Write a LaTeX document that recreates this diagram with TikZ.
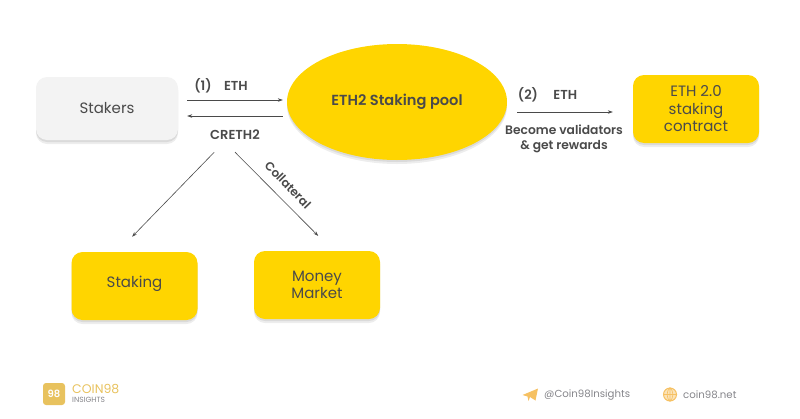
\documentclass[tikz,border=0pt]{standalone}
\usepackage{fontspec}
\setmainfont{Poppins}[BoldFont={Poppins SemiBold}]
\usepackage{xcolor}
\usetikzlibrary{shapes.geometric, arrows.meta, positioning, calc, shadows}
\definecolor{brandyellow}{HTML}{FFD500}
\definecolor{softgrey}{HTML}{F3F3F3}
\definecolor{inkgrey}{HTML}{4A4A4A}
\definecolor{footgrey}{HTML}{85858A}
\definecolor{logogold}{HTML}{E8C25E}
\definecolor{icongold}{HTML}{F6C163}
\begin{document}
\begin{tikzpicture}[x=1pt,y=-1pt,
  softshadow/.style={drop shadow={shadow xshift=0pt,shadow yshift=-4pt,fill=black,opacity=.07},drop shadow={shadow xshift=0pt,shadow yshift=-2pt,fill=black,opacity=.08}},
  box/.style={rectangle,rounded corners=11pt,minimum width=126pt,minimum height=68pt,align=center,font=\fontsize{15}{17.5}\selectfont,text=inkgrey,fill=brandyellow,softshadow},
  stakerbox/.style={box,fill=softgrey,minimum width=142pt,minimum height=63pt},
  pool/.style={ellipse,minimum width=220pt,minimum height=116pt,inner sep=0pt,fill=brandyellow,softshadow,font=\fontsize{14.6}{18}\selectfont\bfseries,text=inkgrey},
  lab/.style={font=\fontsize{13}{15.5}\selectfont\bfseries,text=inkgrey,inner sep=0pt,align=center},
  arr/.style={-{Stealth[length=5pt,width=3.5pt]},semithick,color=inkgrey},
  foot/.style={font=\fontsize{10.2}{14}\selectfont,text=footgrey,inner sep=0pt}
]
\useasboundingbox (0,0) rectangle (800,418);
\node[pool] (pool) at (397,102) {ETH2 Staking pool};
\node[stakerbox] (stakers) at (107,108.5) {Stakers};
\node[box] (contract) at (696,109) {ETH 2.0\\staking\\contract};
\node[box, text depth=9pt] (staking) at (134.5,286) {Staking};
\node[box] (market) at (317,285) {Money\\Market};
% labels
\node[lab] (one) at (203,86) {(1)};
\node[lab, right=12pt of one] (ethone) {ETH};
\node[lab] (creth) at (235,135) {CRETH2};
\node[lab] (two) at (528,95) {(2)};
\node[lab, right=15pt of two] (ethtwo) {ETH};
\node[lab, font=\fontsize{12.3}{15.5}\selectfont\bfseries] (valid) at (564,139) {Become validators\\\& get rewards};
\node[lab, rotate=-46, font=\fontsize{12}{14}\selectfont\bfseries] (coll) at (288,185) {Collateral};
% arrows
\draw[arr, shorten <=9pt, shorten >=4pt] ([yshift=8.5pt]stakers.east) -- (pool.west |- 0,100);
\draw[arr, shorten <=4pt, shorten >=9pt] (pool.west |- 0,116) -- ([yshift=-7.5pt]stakers.east);
\draw[arr, shorten <=10pt, shorten >=20pt] ([yshift=-10pt]pool.east) -- ([yshift=-3pt]contract.west);
\draw[arr, shorten <=17pt, shorten >=21pt] ([xshift=-9pt]creth.south) -- ([xshift=-17pt]staking.north);
\draw[arr, shorten <=17pt, shorten >=21pt] ([xshift=-12pt]creth.south) -- ([xshift=16pt]market.north);
% footer
\node[rectangle,rounded corners=3pt,minimum size=22pt,inner sep=0pt,fill=logogold,text=white,font=\fontsize{10}{12}\selectfont\bfseries] (logo) at (54,394) {98};
\node[font=\fontsize{12.5}{15}\selectfont,text=logogold,inner sep=0pt,anchor=west] (coin) at (72,389) {COIN98};
\node[font=\fontsize{7.5}{9}\selectfont,text=footgrey,inner sep=0pt,anchor=west] (insights) at (72,400) {INSIGHTS};
\fill[icongold] (522.5,395) -- (538,388.5) -- (535.5,400.5) -- (530,397) -- (528.5,401) -- (527.5,396.5) -- cycle;
\node[foot, anchor=west] (tele) at (544,395) {@Coin98Insights};
\node[circle,draw=icongold,fill=icongold!45,line width=1pt,minimum size=13pt,inner sep=0pt] (globe) at (670,394.5) {};
\draw[icongold,line width=.6pt] (globe.west) -- (globe.east) (globe.north) -- (globe.south)
  (globe.north) to[bend left=45] (globe.south) (globe.north) to[bend right=45] (globe.south);
\node[foot, anchor=west] (site) at (683,395) {coin98.net};
\end{tikzpicture}
\end{document}
